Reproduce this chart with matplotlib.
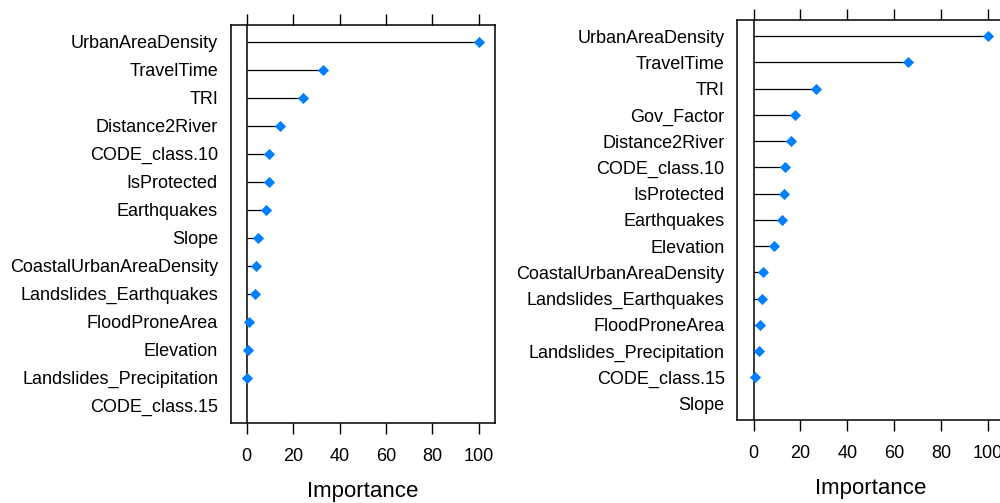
from matplotlib import pyplot as plt

plt.rcParams['font.family'] = ['Liberation Sans', 'DejaVu Sans']

# left panel
left_names = ['UrbanAreaDensity', 'TravelTime', 'TRI', 'Distance2River', 'CODE_class.10',
              'IsProtected', 'Earthquakes', 'Slope', 'CoastalUrbanAreaDensity',
              'Landslides_Earthquakes', 'FloodProneArea', 'Elevation',
              'Landslides_Precipitation', 'CODE_class.15']
left_imp = [100, 32.8, 24.3, 14.3, 9.4, 9.4, 8.1, 5.0, 4.0, 3.4, 0.8, 0.7, 0.1, 0]

# right panel
right_names = ['UrbanAreaDensity', 'TravelTime', 'TRI', 'Gov_Factor', 'Distance2River',
               'CODE_class.10', 'IsProtected', 'Earthquakes', 'Elevation',
               'CoastalUrbanAreaDensity', 'Landslides_Earthquakes', 'FloodProneArea',
               'Landslides_Precipitation', 'CODE_class.15', 'Slope']
right_imp = [100, 66.1, 26.8, 17.6, 16.0, 13.2, 12.8, 12.3, 8.6, 3.9, 3.8, 2.7, 2.1, 0.7, 0]

xticks = [0, 20, 40, 60, 80, 100]


def needle_plot(ax, names, vals):
    n = len(names)
    ypos = [n - i for i in range(n)]
    ax.axvline(0, color='black', lw=1.1, zorder=1)
    ax.hlines(ypos, 0, vals, color='black', lw=0.9, zorder=2)
    px = [v for v in vals if v > 0]
    py = [y for v, y in zip(vals, ypos) if v > 0]
    ax.plot(px, py, ls='none', marker='D', ms=4.6, color='#0080ff',
            mec='#0080ff', mew=0.6, zorder=3)
    ax.set_xlim(-7, 107)
    ax.set_ylim(0.4, n + 0.6)
    ax.set_yticks(ypos)
    ax.set_yticklabels(names, fontsize=13)
    ax.tick_params(axis='y', length=0, pad=9)
    ax.set_xticks(xticks)
    ax.tick_params(axis='x', direction='out', length=8, width=1, top=True,
                   labeltop=False, labelsize=13, pad=10)
    ax.set_xlabel('Importance', fontsize=16, labelpad=12)
    for s in ax.spines.values():
        s.set_linewidth(1.1)


fig = plt.figure(figsize=(10, 5.03), dpi=100)
ax1 = fig.add_axes([0.2305, 0.160, 0.2645, 0.7905])
ax2 = fig.add_axes([0.7372, 0.166, 0.2670, 0.7936])
needle_plot(ax1, left_names, left_imp)
needle_plot(ax2, right_names, right_imp)
plt.savefig('out.png', dpi=100)
